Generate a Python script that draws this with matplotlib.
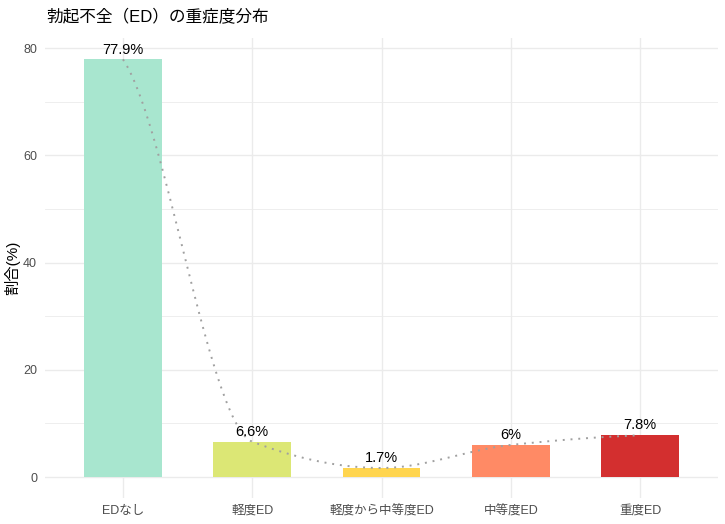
import numpy as np
import matplotlib
matplotlib.use('Agg')
import matplotlib.pyplot as plt

# フォント（ラテン文字はLiberation Sans、日本語はNoto Sans CJK JPにフォールバック）
plt.rcParams['font.family'] = ['Liberation Sans', 'Noto Sans CJK JP', 'DejaVu Sans']

# ==========================================
# データ
# ==========================================
categories = ['EDなし', '軽度ED', '軽度から中等度ED', '中等度ED', '重度ED']
percentages = [77.9, 6.6, 1.7, 6.0, 7.8]
bar_colors = ['#A8E6CF', '#DCE775', '#FFD54F', '#FF8A65', '#D32F2F']
y_ticks = [0, 20, 40, 60, 80]

title_text = '勃起不全（ED）の重症度分布'
ylabel_text = '割合(%)'


def smooth_curve(x, y, n=60):
    """棒の頂点を結ぶ単調エルミート補間（端点は割線の半分の傾き）"""
    x = np.asarray(x, float)
    y = np.asarray(y, float)
    h = np.diff(x)
    d = np.diff(y) / h
    m = np.zeros_like(y)
    for k in range(1, len(y) - 1):
        if d[k - 1] * d[k] > 0:
            m[k] = 2.0 / (1.0 / d[k - 1] + 1.0 / d[k])
    m[0] = d[0] / 2
    m[-1] = d[-1] / 2
    xs, ys = [], []
    for k in range(len(x) - 1):
        t = np.linspace(0, 1, n)
        h00 = 2 * t**3 - 3 * t**2 + 1
        h10 = t**3 - 2 * t**2 + t
        h01 = -2 * t**3 + 3 * t**2
        h11 = t**3 - t**2
        xs.append(x[k] + t * h[k])
        ys.append(h00 * y[k] + h10 * h[k] * m[k] + h01 * y[k + 1] + h11 * h[k] * m[k + 1])
    return np.concatenate(xs), np.concatenate(ys)


# ==========================================
# 描画
# ==========================================
fig = plt.figure(figsize=(7.25, 5.24), dpi=100)
ax = fig.add_axes([0.0626, 0.0496, 0.9274, 0.877])

pos = np.arange(1, len(categories) + 1)

# グリッド
for v in np.arange(10, 80, 20):
    ax.axhline(v, color='#EBEBEB', lw=0.6, zorder=0)
for v in y_ticks:
    ax.axhline(v, color='#EBEBEB', lw=1.0, zorder=0)
for p in pos:
    ax.axvline(p, color='#EBEBEB', lw=1.0, zorder=0)

ax.bar(pos, percentages, width=0.6, color=bar_colors, zorder=2)

cx, cy = smooth_curve(pos, percentages)
ax.plot(cx, cy, color='#A0A0A0', lw=1.4, linestyle=(0, (1, 3)), zorder=3)

for p, v in zip(pos, percentages):
    ax.annotate(f'{v:g}%', (p, v), xytext=(0, 2), textcoords='offset points',
                ha='center', va='bottom', fontsize=10.5, color='black', zorder=4)

ax.set_xlim(0.4, 5.6)
ax.set_ylim(-3.9, 81.8)
ax.set_xticks(pos)
ax.set_xticklabels(categories)
ax.set_yticks(y_ticks)
ax.tick_params(axis='both', length=0, labelsize=9, labelcolor='#4D4D4D')
ax.tick_params(axis='x', pad=5)
ax.tick_params(axis='y', pad=6)
for s in ax.spines.values():
    s.set_visible(False)

ax.set_ylabel(ylabel_text, fontsize=11, color='black', labelpad=2)
fig.text(0.0635, 0.968, title_text, fontsize=12, ha='left', va='center', color='black')

fig.savefig('out.png', dpi=100, facecolor='white')
